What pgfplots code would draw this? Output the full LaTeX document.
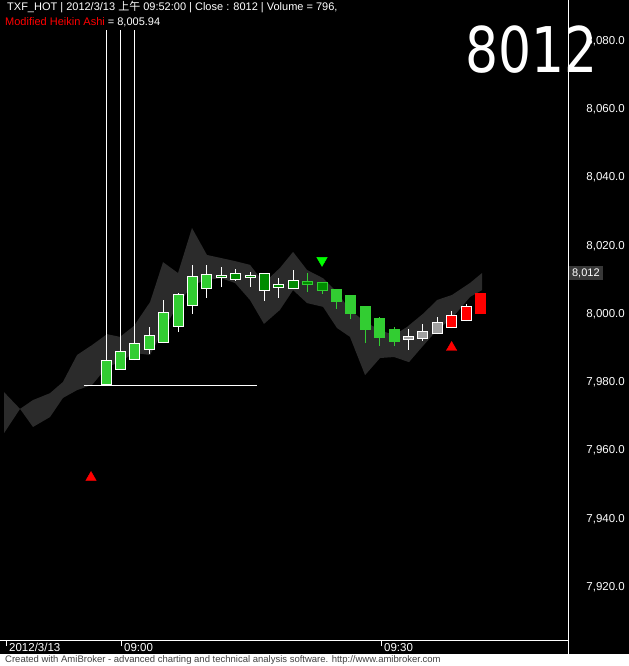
\documentclass[border=0pt]{standalone}
\usepackage{pgfplots}
\pgfplotsset{compat=1.18}
\usepackage{fontspec}
\setmainfont{Liberation Sans}
\newfontfamily\cjk{Noto Sans CJK TC}
\newfontfamily\dejavu{DejaVu Sans}

\definecolor{band}{HTML}{2B2B2B}
\definecolor{lime}{HTML}{32CD32}
\definecolor{dkgreen}{HTML}{008C00}
\definecolor{hagray}{HTML}{A0A0A0}
\definecolor{lblbox}{HTML}{383838}
\definecolor{mkgreen}{HTML}{00FF00}

% x, body bottom, body top, low, high, fill, border, wick
\newcommand\candle[8]{%
  \addplot[draw=#8, line width=1bp] coordinates {(#1,#4) (#1,#5)};
  \addplot[draw=#7, line width=11bp] coordinates {(#1,#2) (#1,#3)};
  \addplot[draw=#6, line width=9bp, shorten <=1bp, shorten >=1bp] coordinates {(#1,#2) (#1,#3)};
}

\begin{document}
\begin{tikzpicture}[x=1bp,y=1bp]
\path[use as bounding box] (0,0) rectangle (629,666);
\fill[black] (0,0) rectangle (629,666);
\fill[white] (0,0) rectangle (629,12);

\begin{axis}[
    at={(0bp,25bp)}, anchor=south west,
    scale only axis, width=568bp, height=641bp,
    xmin=-7.361, xmax=32.083,
    ymin=7904.2, ymax=8092.0,
    clip=false,
    axis x line*=bottom, axis y line*=right,
    axis line style={white, line width=1bp, -},
    ytick={7920,7940,...,8080},
    ytick style={draw=none},
    scaled y ticks=false,
    /pgf/number format/.cd, fixed, fixed zerofill, precision=1, 1000 sep={,}, assume math mode=true,
    /pgfplots/.cd,
    yticklabel style={anchor=east, inner sep=0pt, xshift=52bp, text=white, font=\fontsize{11.5bp}{13bp}\selectfont},
    xtick={-6.944,1.042,19.097},
    xticklabels={2012/3/13, 09:00, 09:30},
    tick align=outside,
    major tick length=5bp,
    xtick style={white, line width=1bp},
    xticklabel style={anchor=north west, inner sep=0pt, xshift=3bp, yshift=3bp, text=white, font=\fontsize{11.5bp}{13bp}\selectfont},
]
% shaded band
\addplot[fill=band, draw=none] coordinates {
  (-7.08,7977.1) (-5.97,7972.2) (-5.07,7974.8) (-3.89,7976.8) (-2.99,7980.1)
  (-2.01,7988.0) (-0.97,7990.9) (0.07,7994.1) (0.97,7993.3) (1.94,7996.5)
  (3.06,8003.5) (3.96,8015.2) (5.00,8012.0) (5.97,8025.2) (7.01,8017.3)
  (7.99,8016.4) (8.96,8015.5) (10.0,8014.4) (10.97,8009.1) (12.08,8013.5)
  (12.99,8018.2) (13.96,8012.9) (15.07,8010.5) (16.04,8006.4) (16.94,8001.2)
  (17.99,7997.7) (19.03,7995.3) (20.0,7993.8) (20.9,7996.2) (22.08,8000.3)
  (22.99,8004.1) (24.03,8005.6) (25.28,8009.1) (26.11,8012.0)
  (26.11,8007.0) (25.28,8005.0) (24.03,7998.8) (22.99,7995.3) (21.94,7990.3)
  (21.04,7985.9) (20.0,7987.4) (19.03,7987.1) (17.99,7982.1) (16.94,7993.3)
  (16.04,7995.9) (15.07,8002.1) (13.96,8003.2) (12.99,8007.0) (12.08,8001.2)
  (10.97,7997.1) (10.0,8004.1) (8.96,8009.1) (7.99,8010.5) (7.01,8010.0)
  (5.97,8008.5) (5.00,8002.6) (3.96,7995.3) (3.06,7988.0) (1.94,7988.6)
  (0.97,7985.9) (0.07,7984.5) (-0.97,7979.2) (-2.01,7977.7) (-2.99,7975.4)
  (-3.89,7969.8) (-5.07,7966.9) (-5.97,7972.2) (-7.08,7965.1)
};
% horizontal level
\addplot[white, line width=1bp] coordinates {(-1.53,7979.2) (10.5,7979.2)};

\candle{0}{7979.2}{7986.5}{7979.2}{8083.2}{lime}{white}{white}
\candle{1}{7983.6}{7989.2}{7983.6}{8083.2}{lime}{white}{white}
\candle{2}{7986.5}{7991.5}{7986.5}{8083.2}{lime}{white}{white}
\candle{3}{7989.5}{7993.9}{7988.3}{7996.2}{lime}{white}{white}
\candle{4}{7991.5}{8000.6}{7991.5}{8004.1}{lime}{white}{white}
\candle{5}{7996.2}{8005.9}{7994.7}{8006.1}{lime}{white}{white}
\candle{6}{8002.3}{8011.1}{8000.0}{8014.3}{lime}{white}{white}
\candle{7}{8007.3}{8011.7}{8004.7}{8014.3}{lime}{white}{white}
\candle{8}{8010.5}{8011.4}{8007.9}{8013.8}{dkgreen}{white}{white}
\candle{9}{8010.0}{8012.0}{8009.7}{8013.2}{dkgreen}{white}{white}
\candle{10}{8010.5}{8011.4}{8007.9}{8012.3}{dkgreen}{white}{white}
\candle{11}{8006.7}{8012.0}{8003.8}{8012.0}{dkgreen}{white}{white}
\candle{12}{8007.6}{8008.8}{8004.7}{8010.5}{dkgreen}{white}{white}
\candle{13}{8007.3}{8010.0}{8007.3}{8012.9}{dkgreen}{white}{white}
\candle{14}{8008.5}{8009.7}{8006.4}{8012.0}{dkgreen}{lime}{lime}
\candle{15}{8006.7}{8009.4}{8005.9}{8009.4}{dkgreen}{lime}{lime}
\candle{16}{8003.5}{8007.3}{8001.5}{8007.3}{lime}{lime}{lime}
\candle{17}{8000.0}{8005.6}{7998.5}{8005.6}{lime}{lime}{lime}
\candle{18}{7995.3}{8002.3}{7991.5}{8002.3}{lime}{lime}{lime}
\candle{19}{7993.0}{7998.8}{7990.6}{7999.1}{lime}{lime}{lime}
\candle{20}{7991.8}{7995.6}{7990.6}{7996.2}{lime}{lime}{lime}
\candle{21}{7992.4}{7993.6}{7989.5}{7995.6}{hagray}{white}{white}
\candle{22}{7992.7}{7995.0}{7992.1}{7997.1}{hagray}{white}{white}
\candle{23}{7994.1}{7997.7}{7994.1}{7999.1}{hagray}{white}{white}
\candle{24}{7995.9}{7999.7}{7995.9}{8000.9}{red}{white}{white}
\candle{25}{7997.9}{8002.3}{7997.9}{8002.9}{red}{white}{white}
\candle{26}{8000.0}{8006.1}{8000.0}{8006.1}{red}{red}{red}

% signals
\addplot[only marks, mark=triangle*, mark size=6bp, mark options={rotate=180, fill=mkgreen, draw=mkgreen}] coordinates {(15,8015.7)};
\addplot[only marks, mark=triangle*, mark size=6bp, mark options={fill=red, draw=red}] coordinates {(24,7990.2) (-1.04,7952.1)};

% last value label
\node[anchor=west, fill=lblbox, text=white, inner xsep=3.5bp, inner ysep=2.5bp, font=\fontsize{11bp}{13bp}\selectfont] at (axis cs:32.11,8012) {8,012};
\end{axis}

\draw[white, line width=1bp] (568,12) -- (568,25);

\node[anchor=base west, inner sep=0pt, text=white, font=\fontsize{11bp}{13bp}\selectfont] at (7,655)
  {TXF\_HOT | 2012/3/13 {\cjk 上午} 09:52:00 | Close : 8012 | Volume = 796,};
\node[anchor=base west, inner sep=0pt, text=white, font=\fontsize{11bp}{13bp}\selectfont] at (5,640)
  {\textcolor{red}{Modified Heikin Ashi} = 8,005.94};
\node[anchor=base west, inner sep=0pt, text=white, xscale=0.825, font=\dejavu\fontsize{63bp}{70bp}\selectfont] at (465,593) {8012};
\node[anchor=base west, inner sep=0pt, text=black!75, font=\fontsize{9.5bp}{11bp}\selectfont] at (5,3)
  {Created with AmiBroker - advanced charting and technical analysis software. http://www.amibroker.com};
\end{tikzpicture}
\end{document}
